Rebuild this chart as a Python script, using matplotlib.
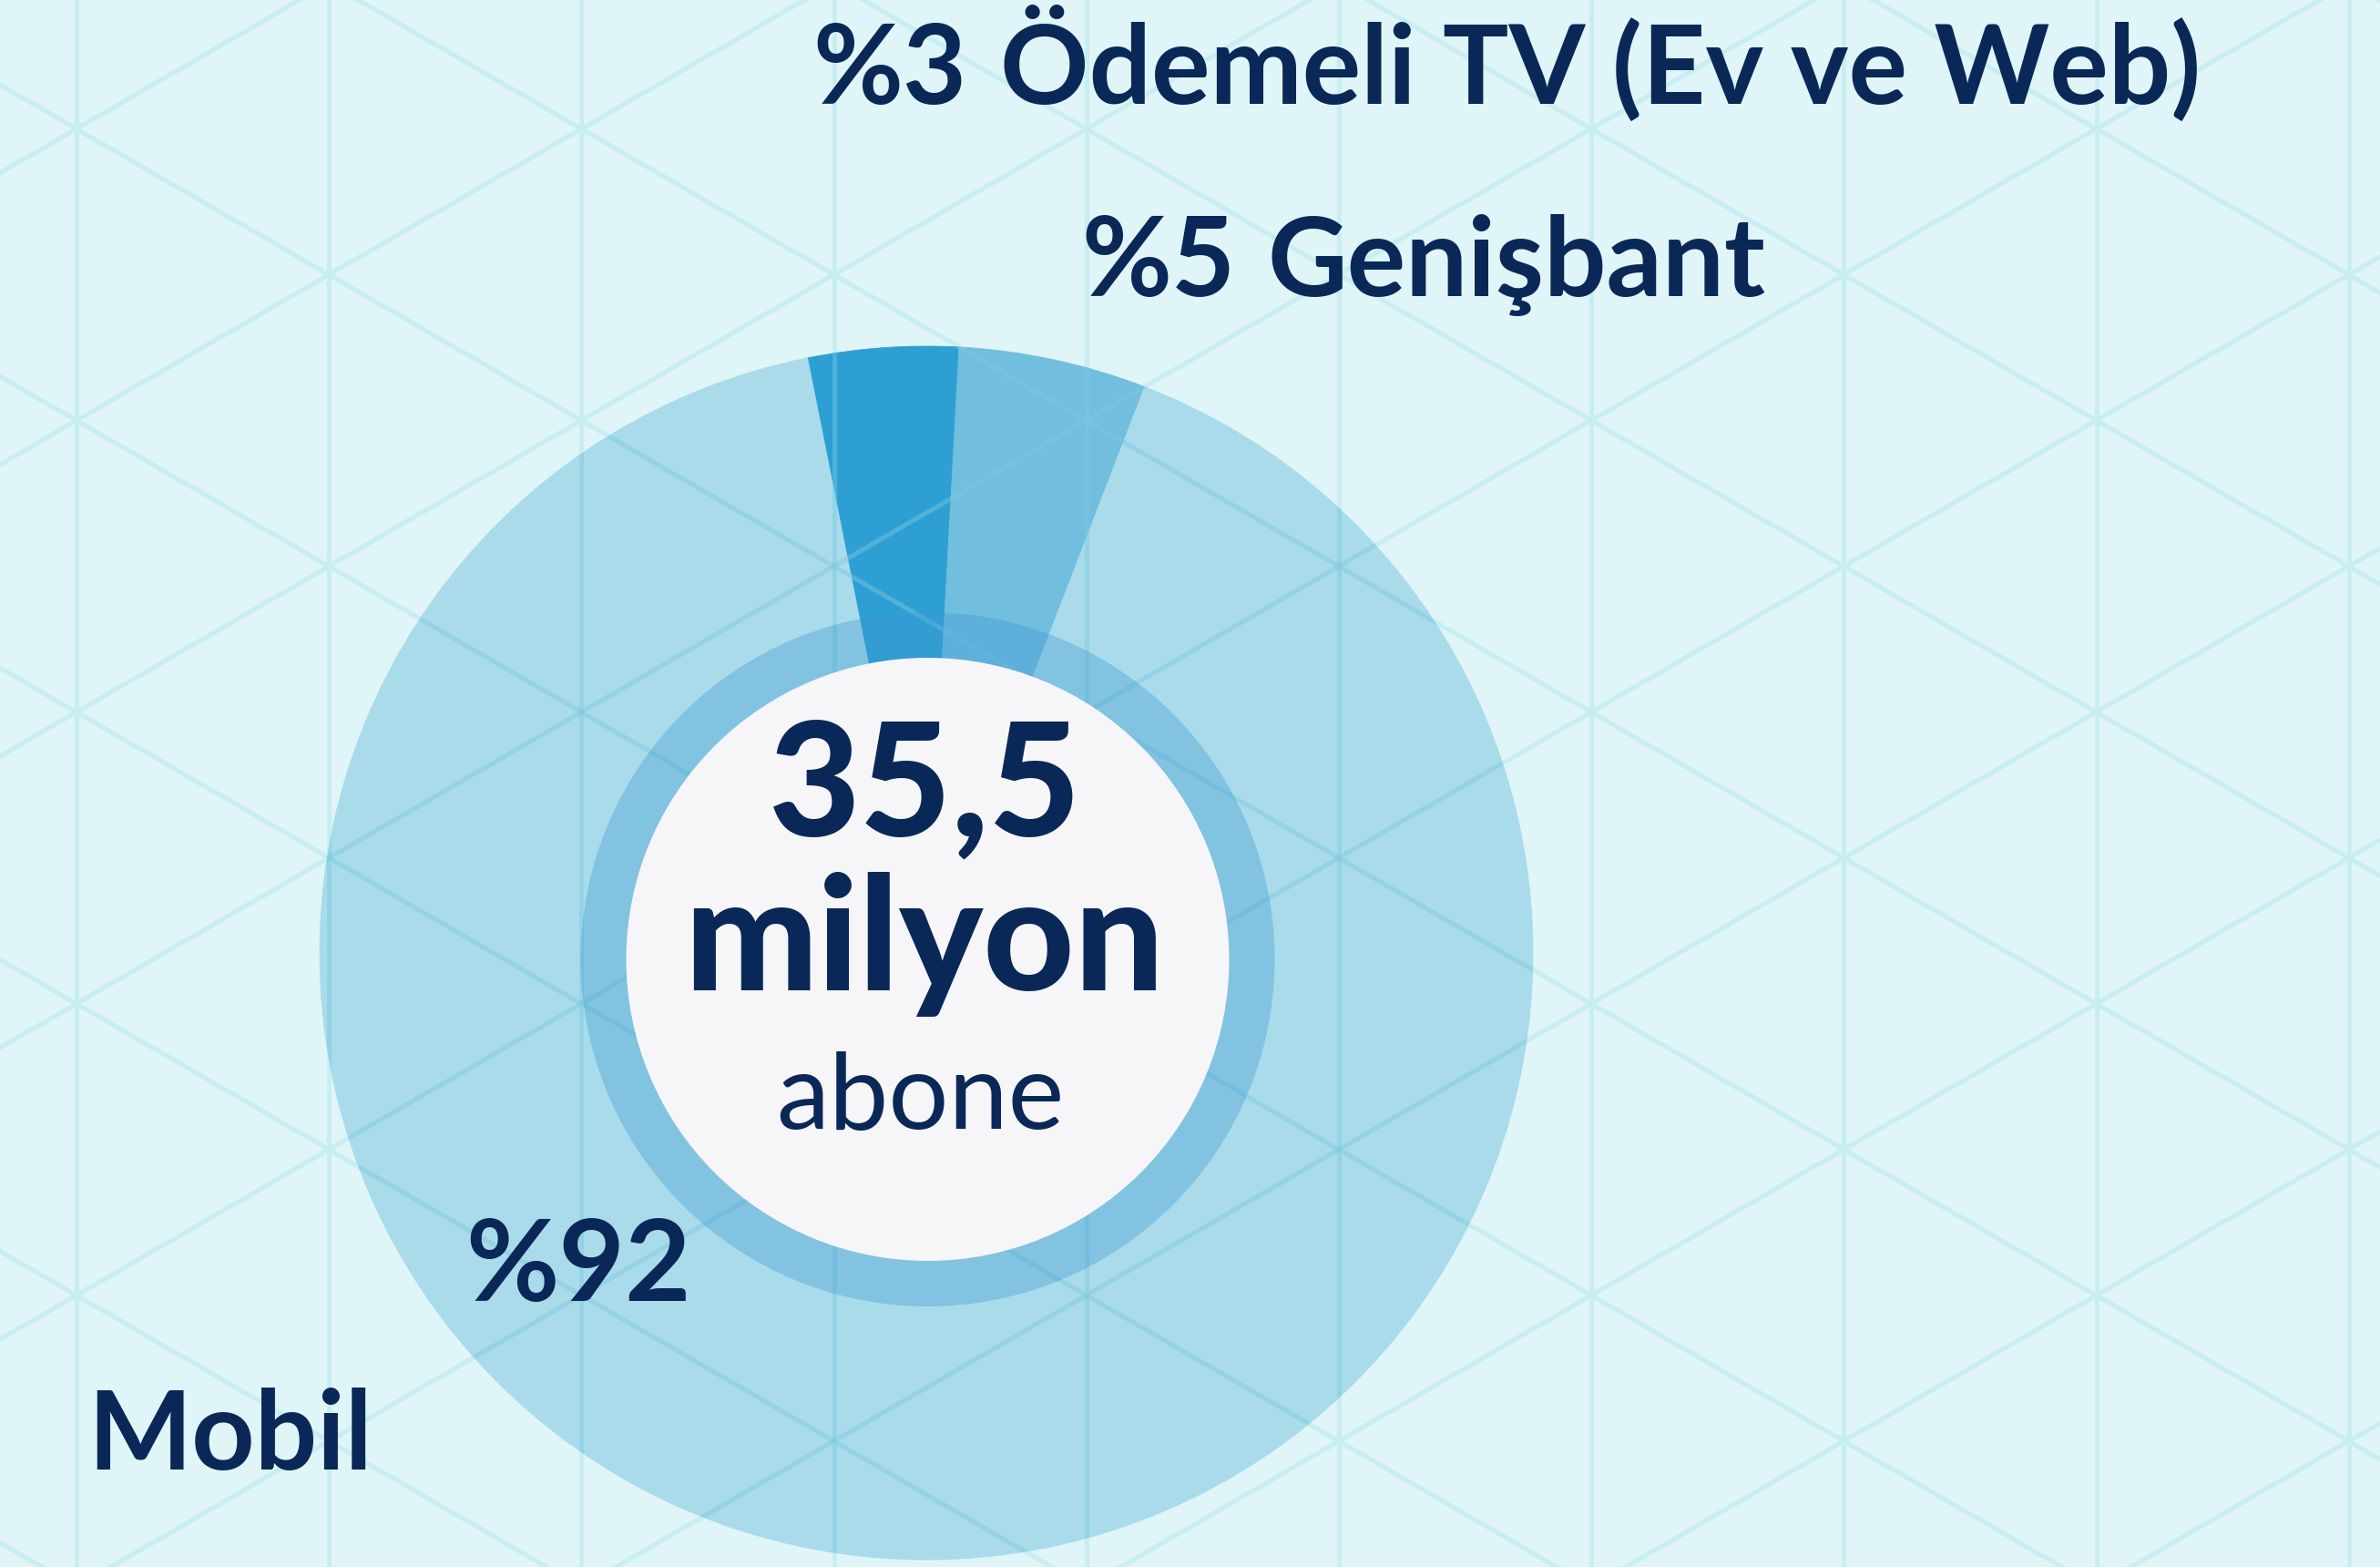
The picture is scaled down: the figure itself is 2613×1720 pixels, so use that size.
import numpy as np
import matplotlib.pyplot as plt
from matplotlib import font_manager as fm
from matplotlib.patches import Circle

# segment order: Ödemeli TV, Genişbant, Mobil (drawn clockwise from top)
segments = ['Ödemeli TV (Ev ve Web)', 'Genişbant', 'Mobil']
shares = [4.0, 5.0, 91.0]          # share of circle as drawn in the picture
pct_labels = ['%3', '%5', '%92']
total_value = '35,5'
total_unit = 'milyon'
total_note = 'abone'

W, H = 2613, 1720
bg = '#dff5f7'
navy = '#0a2857'
seg_colors = ['#2e9fd3', '#71bedf', '#a9dbea']


# pick a humanist sans that actually has bold faces installed
def weights_of(name):
    out = set()
    for f in fm.fontManager.ttflist:
        if f.name == name:
            w = f.weight
            if isinstance(w, str):
                w = fm.weight_dict.get(w, 400)
            out.add(int(w))
    return out


font, heavy = 'DejaVu Sans', 'bold'
for fam in ['Lato', 'Open Sans', 'Roboto', 'Noto Sans', 'Liberation Sans']:
    ws = weights_of(fam)
    if any(w >= 700 for w in ws):
        font = fam
        heavy = 900 if any(w >= 850 for w in ws) else 'bold'
        break

fig = plt.figure(figsize=(W / 100, H / 100), dpi=100, facecolor=bg)
ax = fig.add_axes([0, 0, 1, 1])
ax.set_facecolor(bg)

# donut
cx, cy, r_out = 1017, H - 1046, 666
wedges, _ = ax.pie(shares, colors=seg_colors, startangle=101.3, counterclock=False,
                   center=(cx, cy), radius=r_out,
                   wedgeprops=dict(linewidth=0.6, antialiased=True))
for w, c in zip(wedges, seg_colors):
    w.set_edgecolor(c)
    w.set_zorder(2)

# triangular background grid
step = 277.2
h = step * np.tan(np.radians(30))
x0, y0 = 638.3, H - 1101.7
t = np.tan(np.radians(30))
xs = np.arange(x0 - 3 * step, W + step, step)
xx = np.array([-100, W + 100])


def grid(z, color, alpha=1.0, clip=None):
    arts = []
    for xv in xs:
        arts += ax.plot([xv, xv], [-50, H + 50], color=color, lw=3.6, alpha=alpha, zorder=z)
    for k in range(-12, 14):
        c0 = y0 + 2 * h * k
        arts += ax.plot(xx, c0 + t * (xx - x0), color=color, lw=3.6, alpha=alpha, zorder=z)
        arts += ax.plot(xx, c0 - t * (xx - x0), color=color, lw=3.6, alpha=alpha, zorder=z)
    if clip is not None:
        for a in arts:
            a.set_clip_path(clip)


grid(1, '#c8eef1')
clip_circle = Circle((cx, cy), r_out, transform=ax.transData)
grid(3, '#7ccbe0', alpha=0.45, clip=clip_circle)

# inner ring and centre
icx, icy = 1018.5, H - 1053
ax.add_patch(Circle((icx, icy), 381, facecolor=(60 / 255, 152 / 255, 211 / 255),
                    alpha=0.357, linewidth=0, zorder=4))
ax.add_patch(Circle((icx, icy), 331, facecolor='#f6f6f9', linewidth=0, zorder=5))

ax.set_xlim(0, W)
ax.set_ylim(0, H)
ax.axis('off')

# labels
kw = dict(va='baseline', color=navy, family=font, zorder=6)
fs = 87
ax.text(1061, H - 114, pct_labels[0], ha='right', fontsize=fs, fontweight='bold', **kw)
ax.text(1098, H - 114, segments[0], ha='left', fontsize=fs, fontweight='bold', **kw)
ax.text(1356, H - 325, pct_labels[1], ha='right', fontsize=fs, fontweight='bold', **kw)
ax.text(1392, H - 325, segments[1], ha='left', fontsize=fs, fontweight='bold', **kw)
ax.text(635, H - 1428, pct_labels[2], ha='center', fontsize=90, fontweight='bold', **kw)
ax.text(96, H - 1613, segments[2], ha='left', fontsize=fs, fontweight='bold', **kw)

ax.text(1016, H - 918, total_value, ha='center', fontsize=125, fontweight=heavy, **kw)
ax.text(1015, H - 1087, total_unit, ha='center', fontsize=125, fontweight=heavy, **kw)
ax.text(1010, H - 1239, total_note, ha='center', fontsize=84, fontweight='normal', **kw)

fig.savefig('out.png', dpi=100, facecolor=bg)
